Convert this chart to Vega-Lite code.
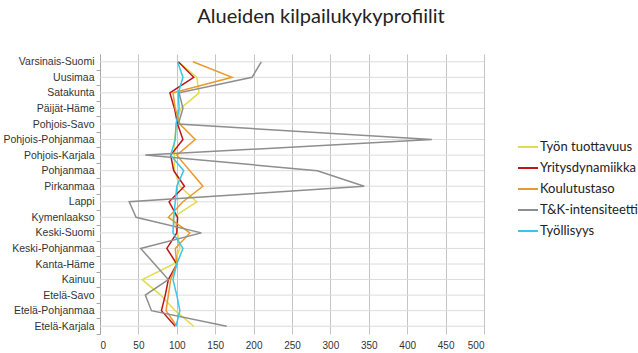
{
  "$schema": "https://vega.github.io/schema/vega-lite/v6.json",
  "autosize": {"type": "none"},
  "padding": {"left": 100, "top": 54, "right": 154, "bottom": 19},
  "width": 384,
  "height": 280,
  "background": "white",
  "title": {"text": "Alueiden kilpailukykyprofiilit", "font": "Lato", "fontSize": 20, "fontWeight": "normal", "color": "#222222", "anchor": "middle", "dx": 29, "offset": 27},
  "config": {"view": {"stroke": null}},
  "datasets": {
    "d": [
      {"r": "Varsinais-Suomi", "i": 1, "s": "Työn tuottavuus", "v": 102},
      {"r": "Uusimaa", "i": 2, "s": "Työn tuottavuus", "v": 126},
      {"r": "Satakunta", "i": 3, "s": "Työn tuottavuus", "v": 129},
      {"r": "Päijät-Häme", "i": 4, "s": "Työn tuottavuus", "v": 105},
      {"r": "Pohjois-Savo", "i": 5, "s": "Työn tuottavuus", "v": 100},
      {"r": "Pohjois-Pohjanmaa", "i": 6, "s": "Työn tuottavuus", "v": 97},
      {"r": "Pohjois-Karjala", "i": 7, "s": "Työn tuottavuus", "v": 97},
      {"r": "Pohjanmaa", "i": 8, "s": "Työn tuottavuus", "v": 97},
      {"r": "Pirkanmaa", "i": 9, "s": "Työn tuottavuus", "v": 104},
      {"r": "Lappi", "i": 10, "s": "Työn tuottavuus", "v": 126},
      {"r": "Kymenlaakso", "i": 11, "s": "Työn tuottavuus", "v": 95},
      {"r": "Keski-Suomi", "i": 12, "s": "Työn tuottavuus", "v": 101},
      {"r": "Keski-Pohjanmaa", "i": 13, "s": "Työn tuottavuus", "v": 104},
      {"r": "Kanta-Häme", "i": 14, "s": "Työn tuottavuus", "v": 96},
      {"r": "Kainuu", "i": 15, "s": "Työn tuottavuus", "v": 55},
      {"r": "Etelä-Savo", "i": 16, "s": "Työn tuottavuus", "v": 79},
      {"r": "Etelä-Pohjanmaa", "i": 17, "s": "Työn tuottavuus", "v": 98},
      {"r": "Etelä-Karjala", "i": 18, "s": "Työn tuottavuus", "v": 122},

      {"r": "Varsinais-Suomi", "i": 1, "s": "Yritysdynamiikka", "v": 102},
      {"r": "Uusimaa", "i": 2, "s": "Yritysdynamiikka", "v": 122},
      {"r": "Satakunta", "i": 3, "s": "Yritysdynamiikka", "v": 91},
      {"r": "Päijät-Häme", "i": 4, "s": "Yritysdynamiikka", "v": 97},
      {"r": "Pohjois-Savo", "i": 5, "s": "Yritysdynamiikka", "v": 101},
      {"r": "Pohjois-Pohjanmaa", "i": 6, "s": "Yritysdynamiikka", "v": 108},
      {"r": "Pohjois-Karjala", "i": 7, "s": "Yritysdynamiikka", "v": 92},
      {"r": "Pohjanmaa", "i": 8, "s": "Yritysdynamiikka", "v": 96},
      {"r": "Pirkanmaa", "i": 9, "s": "Yritysdynamiikka", "v": 110},
      {"r": "Lappi", "i": 10, "s": "Yritysdynamiikka", "v": 90},
      {"r": "Kymenlaakso", "i": 11, "s": "Yritysdynamiikka", "v": 101},
      {"r": "Keski-Suomi", "i": 12, "s": "Yritysdynamiikka", "v": 100},
      {"r": "Keski-Pohjanmaa", "i": 13, "s": "Yritysdynamiikka", "v": 87},
      {"r": "Kanta-Häme", "i": 14, "s": "Yritysdynamiikka", "v": 100},
      {"r": "Kainuu", "i": 15, "s": "Yritysdynamiikka", "v": 89},
      {"r": "Etelä-Savo", "i": 16, "s": "Yritysdynamiikka", "v": 85},
      {"r": "Etelä-Pohjanmaa", "i": 17, "s": "Yritysdynamiikka", "v": 80},
      {"r": "Etelä-Karjala", "i": 18, "s": "Yritysdynamiikka", "v": 98},

      {"r": "Varsinais-Suomi", "i": 1, "s": "Koulutustaso", "v": 121},
      {"r": "Uusimaa", "i": 2, "s": "Koulutustaso", "v": 172},
      {"r": "Satakunta", "i": 3, "s": "Koulutustaso", "v": 95},
      {"r": "Päijät-Häme", "i": 4, "s": "Koulutustaso", "v": 98},
      {"r": "Pohjois-Savo", "i": 5, "s": "Koulutustaso", "v": 104},
      {"r": "Pohjois-Pohjanmaa", "i": 6, "s": "Koulutustaso", "v": 124},
      {"r": "Pohjois-Karjala", "i": 7, "s": "Koulutustaso", "v": 100},
      {"r": "Pohjanmaa", "i": 8, "s": "Koulutustaso", "v": 117},
      {"r": "Pirkanmaa", "i": 9, "s": "Koulutustaso", "v": 134},
      {"r": "Lappi", "i": 10, "s": "Koulutustaso", "v": 108},
      {"r": "Kymenlaakso", "i": 11, "s": "Koulutustaso", "v": 89},
      {"r": "Keski-Suomi", "i": 12, "s": "Koulutustaso", "v": 117},
      {"r": "Keski-Pohjanmaa", "i": 13, "s": "Koulutustaso", "v": 98},
      {"r": "Kanta-Häme", "i": 14, "s": "Koulutustaso", "v": 100},
      {"r": "Kainuu", "i": 15, "s": "Koulutustaso", "v": 92},
      {"r": "Etelä-Savo", "i": 16, "s": "Koulutustaso", "v": 89},
      {"r": "Etelä-Pohjanmaa", "i": 17, "s": "Koulutustaso", "v": 86},
      {"r": "Etelä-Karjala", "i": 18, "s": "Koulutustaso", "v": 100},

      {"r": "Varsinais-Suomi", "i": 1, "s": "T&K-intensiteetti", "v": 210},
      {"r": "Uusimaa", "i": 2, "s": "T&K-intensiteetti", "v": 198},
      {"r": "Satakunta", "i": 3, "s": "T&K-intensiteetti", "v": 103},
      {"r": "Päijät-Häme", "i": 4, "s": "T&K-intensiteetti", "v": 108},
      {"r": "Pohjois-Savo", "i": 5, "s": "T&K-intensiteetti", "v": 102},
      {"r": "Pohjois-Pohjanmaa", "i": 6, "s": "T&K-intensiteetti", "v": 432},
      {"r": "Pohjois-Karjala", "i": 7, "s": "T&K-intensiteetti", "v": 59},
      {"r": "Pohjanmaa", "i": 8, "s": "T&K-intensiteetti", "v": 283},
      {"r": "Pirkanmaa", "i": 9, "s": "T&K-intensiteetti", "v": 344},
      {"r": "Lappi", "i": 10, "s": "T&K-intensiteetti", "v": 38},
      {"r": "Kymenlaakso", "i": 11, "s": "T&K-intensiteetti", "v": 47},
      {"r": "Keski-Suomi", "i": 12, "s": "T&K-intensiteetti", "v": 132},
      {"r": "Keski-Pohjanmaa", "i": 13, "s": "T&K-intensiteetti", "v": 53},
      {"r": "Kanta-Häme", "i": 14, "s": "T&K-intensiteetti", "v": 71},
      {"r": "Kainuu", "i": 15, "s": "T&K-intensiteetti", "v": 89},
      {"r": "Etelä-Savo", "i": 16, "s": "T&K-intensiteetti", "v": 59},
      {"r": "Etelä-Pohjanmaa", "i": 17, "s": "T&K-intensiteetti", "v": 67},
      {"r": "Etelä-Karjala", "i": 18, "s": "T&K-intensiteetti", "v": 165},

      {"r": "Varsinais-Suomi", "i": 1, "s": "Työllisyys", "v": 101},
      {"r": "Uusimaa", "i": 2, "s": "Työllisyys", "v": 108},
      {"r": "Satakunta", "i": 3, "s": "Työllisyys", "v": 102},
      {"r": "Päijät-Häme", "i": 4, "s": "Työllisyys", "v": 103},
      {"r": "Pohjois-Savo", "i": 5, "s": "Työllisyys", "v": 99},
      {"r": "Pohjois-Pohjanmaa", "i": 6, "s": "Työllisyys", "v": 98},
      {"r": "Pohjois-Karjala", "i": 7, "s": "Työllisyys", "v": 92},
      {"r": "Pohjanmaa", "i": 8, "s": "Työllisyys", "v": 109},
      {"r": "Pirkanmaa", "i": 9, "s": "Työllisyys", "v": 100},
      {"r": "Lappi", "i": 10, "s": "Työllisyys", "v": 98},
      {"r": "Kymenlaakso", "i": 11, "s": "Työllisyys", "v": 96},
      {"r": "Keski-Suomi", "i": 12, "s": "Työllisyys", "v": 95},
      {"r": "Keski-Pohjanmaa", "i": 13, "s": "Työllisyys", "v": 108},
      {"r": "Kanta-Häme", "i": 14, "s": "Työllisyys", "v": 100},
      {"r": "Kainuu", "i": 15, "s": "Työllisyys", "v": 95},
      {"r": "Etelä-Savo", "i": 16, "s": "Työllisyys", "v": 100},
      {"r": "Etelä-Pohjanmaa", "i": 17, "s": "Työllisyys", "v": 104},
      {"r": "Etelä-Karjala", "i": 18, "s": "Työllisyys", "v": 99}
    ]
  },
  "data": {"name": "d"},
  "encoding": {
    "y": {
      "field": "r", "type": "nominal",
      "sort": ["Varsinais-Suomi", "Uusimaa", "Satakunta", "Päijät-Häme", "Pohjois-Savo", "Pohjois-Pohjanmaa", "Pohjois-Karjala", "Pohjanmaa", "Pirkanmaa", "Lappi", "Kymenlaakso", "Keski-Suomi", "Keski-Pohjanmaa", "Kanta-Häme", "Kainuu", "Etelä-Savo", "Etelä-Pohjanmaa", "Etelä-Karjala"],
      "scale": {"type": "point", "padding": 0.5},
      "axis": {"title": null, "grid": false, "domain": true, "domainColor": "#a6a6a6", "ticks": true, "tickColor": "#a6a6a6", "tickSize": 4, "tickOffset": 7.78, "labelOffset": -7.78, "labelPadding": 2, "labelFont": "Liberation Sans", "labelFontSize": 10.5, "labelColor": "#333333"}
    }
  },
  "layer": [
    {
      "transform": [{"filter": "datum.s === 'Työllisyys'"}],
      "mark": {"type": "rule", "color": "#dcdcdc", "strokeWidth": 1},
      "encoding": {}
    },
    {
      "mark": {"type": "line", "strokeWidth": 1.5},
      "encoding": {
        "x": {
          "field": "v", "type": "quantitative",
          "scale": {"domain": [0, 500], "nice": false},
          "axis": {"title": null, "values": [0, 50, 100, 150, 200, 250, 300, 350, 400, 450, 500], "grid": true, "gridColor": "#c4c4c4", "domain": false, "ticks": false, "labelPadding": 6, "labelFont": "Liberation Sans", "labelFontSize": 10, "labelColor": "#333333"}
        },
        "order": {"field": "i", "type": "quantitative"},
        "color": {
          "field": "s", "type": "nominal",
          "scale": {"domain": ["Työn tuottavuus", "Yritysdynamiikka", "Koulutustaso", "T&K-intensiteetti", "Työllisyys"], "range": ["#e3dc4a", "#c0141c", "#e89a2a", "#8e8e8e", "#36c6ea"]},
          "legend": {"title": null, "orient": "none", "legendX": 417, "legendY": 82, "symbolType": "stroke", "symbolSize": 400, "symbolStrokeWidth": 2, "labelFont": "Lato", "labelFontSize": 13, "labelColor": "#222222", "rowPadding": 3, "labelOffset": 1}
        }
      }
    }
  ]
}
